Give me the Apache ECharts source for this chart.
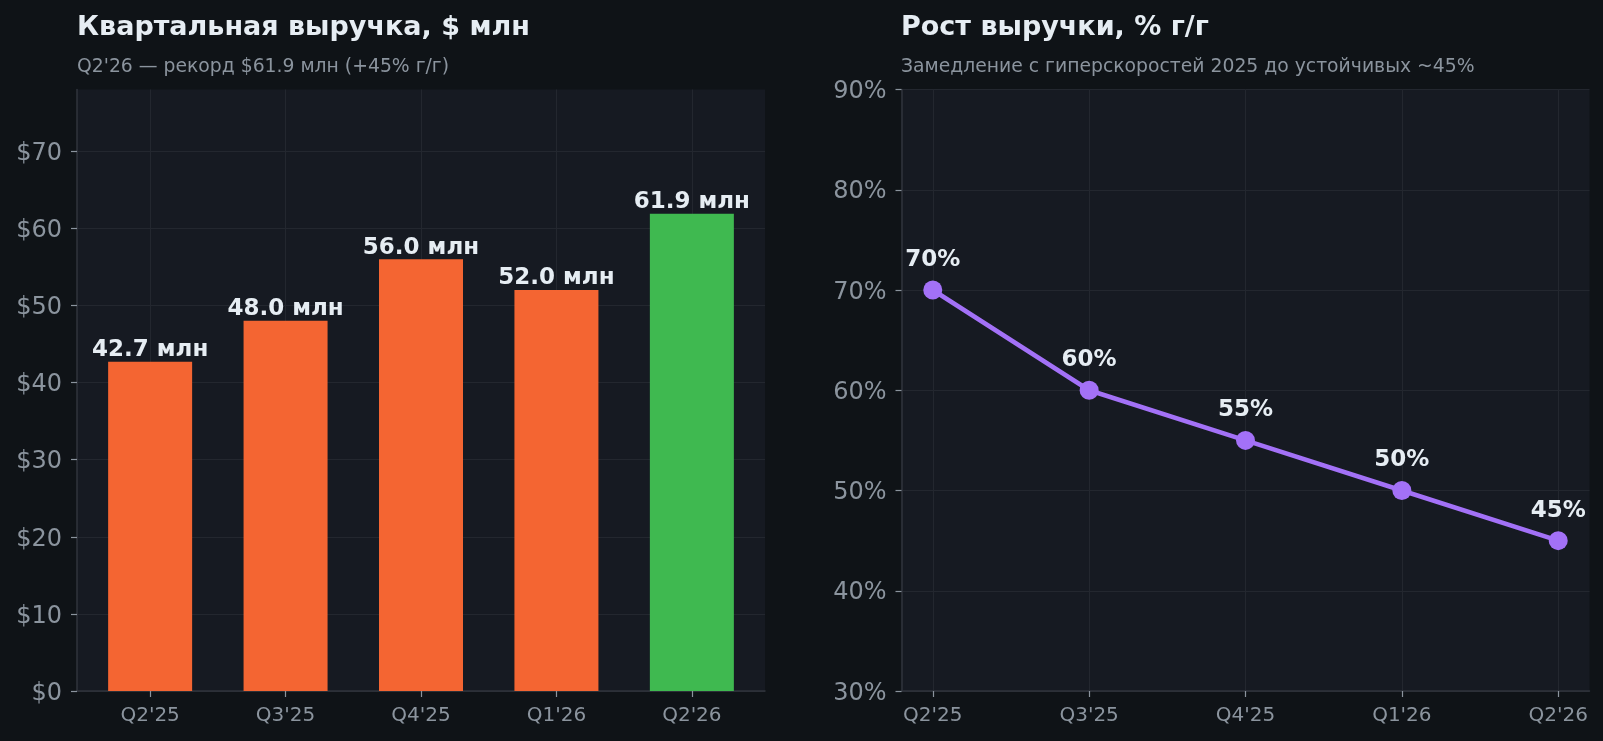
<!DOCTYPE html>
<html>
<head>
<meta charset="utf-8">
<script src="https://cdn.jsdelivr.net/npm/echarts@6/dist/echarts.min.js"></script>
<style>
  html, body { margin: 0; padding: 0; background: #0f1317; }
  #chart { width: 1603px; height: 741px; }
</style>
</head>
<body>
<div id="chart"></div>
<script>
const categories = ["Q2'25", "Q3'25", "Q4'25", "Q1'26", "Q2'26"];
const revenue = [42.7, 48.0, 56.0, 52.0, 61.9];
const growth = [70, 60, 55, 50, 45];
const revenueTicks = [0, 10, 20, 30, 40, 50, 60, 70];
const growthTicks = [30, 40, 50, 60, 70, 80, 90];
const catIdx = categories.map((c, i) => i);

const FONT = 'DejaVu Sans';
const C_BG = '#0f1317', C_PLOT = '#161a22', C_GRID = '#23272f', C_SPINE = '#30353d';
const C_TEXT = '#e6edf3', C_MUTED = '#8b949e';
const C_ORANGE = '#f46532', C_GREEN = '#3fb950', C_PURPLE = '#a371f7';

const chart = echarts.init(document.getElementById('chart'), null, { renderer: 'canvas' });

function xAxisCfg(gridIndex, min, max) {
  return {
    type: 'value', gridIndex, min, max,
    axisLine: { show: true, onZero: false, lineStyle: { color: C_SPINE, width: 1.5 } },
    axisTick: { show: true, length: 6, lineStyle: { color: C_MUTED, width: 1.2 }, customValues: catIdx },
    axisLabel: { color: C_MUTED, fontFamily: FONT, fontSize: 20, margin: 15,
      customValues: catIdx, formatter: v => categories[Math.round(v)] },
    splitLine: { show: true, lineStyle: { color: C_GRID, width: 1 } }
  };
}
function yAxisCfg(gridIndex, min, max, ticks, fmt) {
  return {
    type: 'value', gridIndex, min, max,
    axisLine: { show: true, onZero: false, lineStyle: { color: C_SPINE, width: 1.5 } },
    axisTick: { show: true, length: 6, lineStyle: { color: C_MUTED, width: 1.2 }, customValues: ticks },
    axisLabel: { color: C_MUTED, fontFamily: FONT, fontSize: 24, margin: 15,
      customValues: ticks, formatter: v => '{t|' + fmt(v) + '}',
      rich: { t: { color: C_MUTED, fontFamily: FONT, fontSize: 24, padding: [5, 0, 0, 0] } } },
    splitLine: { show: true, lineStyle: { color: C_GRID, width: 1 } }
  };
}

const option = {
  backgroundColor: C_BG,
  animation: false,
  title: [
    { text: 'Квартальная выручка, $ млн', left: 77, top: 14, padding: 0,
      textStyle: { color: C_TEXT, fontFamily: FONT, fontSize: 27, fontWeight: 'bold' } },
    { text: "Q2'26 — рекорд $61.9 млн (+45% г/г)", left: 77, top: 57.5, padding: 0,
      textStyle: { color: C_MUTED, fontFamily: FONT, fontSize: 18.8, fontWeight: 'normal' } },
    { text: 'Рост выручки, % г/г', left: 901, top: 14, padding: 0,
      textStyle: { color: C_TEXT, fontFamily: FONT, fontSize: 27, fontWeight: 'bold' } },
    { text: 'Замедление с гиперскоростей 2025 до устойчивых ~45%', left: 901, top: 57.5, padding: 0,
      textStyle: { color: C_MUTED, fontFamily: FONT, fontSize: 18.8, fontWeight: 'normal' } }
  ],
  grid: [
    { left: 77, top: 89.5, width: 688, height: 601.5, show: true, backgroundColor: C_PLOT, borderWidth: 0 },
    { left: 901.5, top: 89.5, width: 688, height: 601.5, show: true, backgroundColor: C_PLOT, borderWidth: 0 }
  ],
  xAxis: [ xAxisCfg(0, -0.54, 4.54), xAxisCfg(1, -0.2, 4.2) ],
  yAxis: [
    yAxisCfg(0, 0, 78, revenueTicks, v => '$' + v),
    yAxisCfg(1, 30, 90, growthTicks, v => v + '%')
  ],
  series: [
    {
      type: 'bar', xAxisIndex: 0, yAxisIndex: 0,
      data: revenue.map((v, i) => [i, v]),
      barWidth: 84,
      itemStyle: { color: p => p.dataIndex === revenue.length - 1 ? C_GREEN : C_ORANGE },
      label: { show: true, position: 'top', distance: 0, color: C_TEXT, fontFamily: FONT,
        fontSize: 23, fontWeight: 'bold', formatter: p => p.value[1].toFixed(1) + ' млн' }
    },
    {
      type: 'line', xAxisIndex: 1, yAxisIndex: 1,
      data: growth.map((v, i) => [i, v]),
      lineStyle: { color: C_PURPLE, width: 4.5 },
      itemStyle: { color: C_PURPLE },
      symbol: 'circle', symbolSize: 19,
      label: { show: true, position: 'top', distance: 9, color: C_TEXT, fontFamily: FONT,
        fontSize: 23, fontWeight: 'bold', formatter: p => p.value[1] + '%' }
    }
  ]
};
chart.setOption(option);
</script>
</body>
</html>
